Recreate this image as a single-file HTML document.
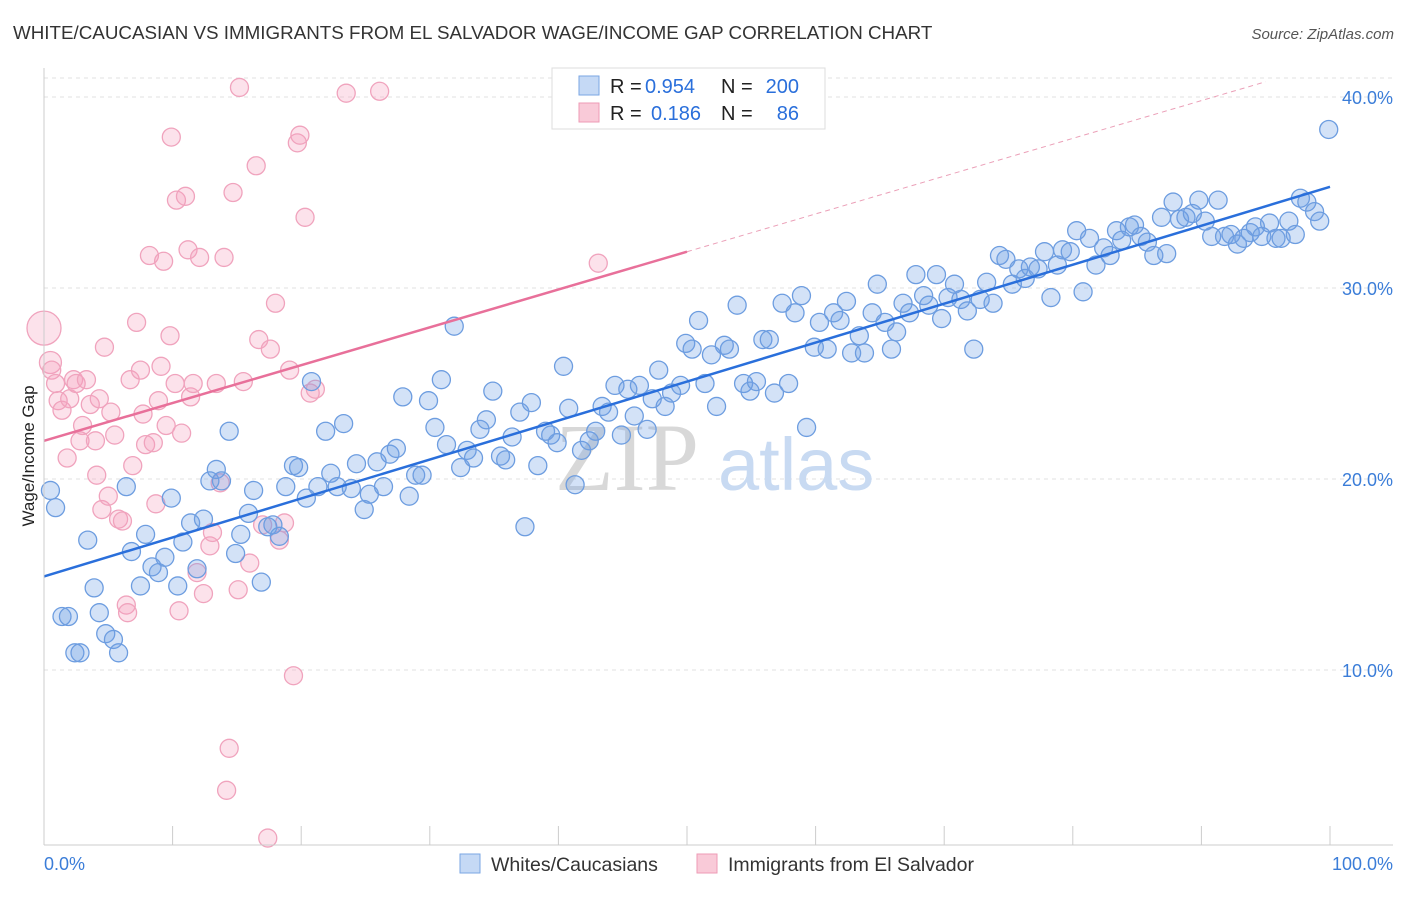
<!DOCTYPE html>
<html><head><meta charset="utf-8"><style>
body{margin:0;background:#fff;font-family:"Liberation Sans",sans-serif}
svg text{font-family:"Liberation Sans",sans-serif}
</style></head><body>
<svg id="c" width="1406" height="892" viewBox="0 0 1406 892">
<text x="13" y="39" font-size="18.8" fill="#333">WHITE/CAUCASIAN VS IMMIGRANTS FROM EL SALVADOR WAGE/INCOME GAP CORRELATION CHART</text>
<text x="1394" y="39" font-size="15" fill="#555" text-anchor="end" font-style="italic">Source: ZipAtlas.com</text>
<g id="grid"></g>
<text x="555" y="490" font-size="96" fill="#d8d8d8" style="font-family:'Liberation Serif',serif">ZIP</text>
<text x="718" y="490" font-size="74" fill="#c8daf2">atlas</text>
<g id="pts"></g>
<g id="lines"></g>
<g id="axes"></g>
<text transform="translate(34,456) rotate(-90)" font-size="17" fill="#222" text-anchor="middle">Wage/Income Gap</text>
<g>
<rect x="552" y="68" width="273" height="61" fill="#fff" stroke="#ddd"/>
<rect x="579" y="76" width="20" height="19" fill="#c5d9f5" stroke="#7aa6e3"/>
<rect x="579" y="103" width="20" height="19" fill="#f9cad8" stroke="#ee9bb6"/>
<g font-size="20">
<text x="610" y="93" fill="#222">R =</text><text x="645" y="93" fill="#2a6fdb">0.954</text><text x="721" y="93" fill="#222">N =</text><text x="799" y="93" fill="#2a6fdb" text-anchor="end">200</text>
<text x="610" y="120" fill="#222">R =</text><text x="651" y="120" fill="#2a6fdb">0.186</text><text x="721" y="120" fill="#222">N =</text><text x="799" y="120" fill="#2a6fdb" text-anchor="end">86</text>
</g>
</g>
<g>
<rect x="460" y="854" width="20" height="19" fill="#c5d9f5" stroke="#7aa6e3"/>
<text x="491" y="871" font-size="19.5" fill="#333">Whites/Caucasians</text>
<rect x="697" y="854" width="20" height="19" fill="#f9cad8" stroke="#ee9bb6"/>
<text x="728" y="871" font-size="19.5" fill="#333">Immigrants from El Salvador</text>
</g>
</svg>
<script>
const yTicks=[10,20,30,40];
const yTickLabels=["10.0%","20.0%","30.0%","40.0%"];
const xTicks=[0,10,20,30,40,50,60,70,80,90,100];
const blueX=[0.5,0.9,1.4,1.9,2.4,2.8,3.4,3.9,4.3,4.8,5.4,5.8,6.4,6.8,7.5,7.9,8.4,8.9,9.4,9.9,10.4,10.8,11.4,11.9,12.4,12.9,13.4,13.8,14.4,14.9,15.3,15.9,16.3,16.9,17.4,17.8,18.3,18.8,19.4,19.8,20.4,20.8,21.3,21.9,22.3,22.8,23.3,23.9,24.3,24.9,25.3,25.9,26.4,26.9,27.4,27.9,28.4,28.9,29.4,29.9,30.4,30.9,31.3,31.9,32.4,32.9,33.4,33.9,34.4,34.9,35.5,35.9,36.4,37.0,37.4,37.9,38.4,39.0,39.4,39.9,40.4,40.8,41.3,41.8,42.4,42.9,43.4,43.9,44.4,44.9,45.4,45.9,46.3,46.9,47.3,47.8,48.3,48.8,49.5,49.9,50.4,50.9,51.4,51.9,52.3,52.9,53.3,53.9,54.4,54.9,55.4,55.9,56.4,56.8,57.4,57.9,58.4,58.9,59.3,59.9,60.3,60.9,61.4,61.9,62.4,62.8,63.4,63.8,64.4,64.8,65.4,65.9,66.3,66.8,67.3,67.8,68.4,68.8,69.4,69.8,70.3,70.8,71.3,71.8,72.3,72.8,73.3,73.8,74.3,74.8,75.3,75.8,76.3,76.7,77.3,77.8,78.3,78.8,79.2,79.8,80.3,80.8,81.3,81.8,82.4,82.9,83.4,83.8,84.4,84.8,85.3,85.8,86.3,86.9,87.3,87.8,88.3,88.8,89.3,89.8,90.3,90.8,91.3,91.8,92.3,92.8,93.3,93.8,94.2,94.7,95.3,95.8,96.2,96.8,97.3,97.7,98.2,98.8,99.2,99.9];
const blueY=[19.4,18.5,12.8,12.8,10.9,10.9,16.8,14.3,13.0,11.9,11.6,10.9,19.6,16.2,14.4,17.1,15.4,15.1,15.9,19.0,14.4,16.7,17.7,15.3,17.9,19.9,20.5,19.9,22.5,16.1,17.1,18.2,19.4,14.6,17.5,17.6,17.0,19.6,20.7,20.6,19.0,25.1,19.6,22.5,20.3,19.6,22.9,19.5,20.8,18.4,19.2,20.9,19.6,21.3,21.6,24.3,19.1,20.2,20.2,24.1,22.7,25.2,21.8,28.0,20.6,21.5,21.1,22.6,23.1,24.6,21.2,21.0,22.2,23.5,17.5,24.0,20.7,22.5,22.3,21.9,25.9,23.7,19.7,21.5,22.0,22.5,23.8,23.5,24.9,22.3,24.7,23.3,24.9,22.6,24.2,25.7,23.8,24.5,24.9,27.1,26.8,28.3,25.0,26.5,23.8,27.0,26.8,29.1,25.0,24.6,25.1,27.3,27.3,24.5,29.2,25.0,28.7,29.6,22.7,26.9,28.2,26.8,28.7,28.3,29.3,26.6,27.5,26.6,28.7,30.2,28.2,26.8,27.7,29.2,28.7,30.7,29.6,29.1,30.7,28.4,29.5,30.2,29.4,28.8,26.8,29.4,30.3,29.2,31.7,31.5,30.2,31.0,30.5,31.1,31.0,31.9,29.5,31.2,32.0,31.9,33.0,29.8,32.6,31.2,32.1,31.7,33.0,32.5,33.2,33.3,32.7,32.4,31.7,33.7,31.8,34.5,33.6,33.7,33.9,34.6,33.5,32.7,34.6,32.7,32.8,32.3,32.6,32.9,33.2,32.7,33.4,32.6,32.6,33.5,32.8,34.7,34.5,34.0,33.5,38.3];
const pinkX=[0,0.5,0.6,0.9,1.1,1.4,1.8,2.0,2.3,2.5,2.8,3.0,3.3,3.6,4.0,4.1,4.3,4.5,4.7,5.0,5.2,5.5,5.8,6.1,6.4,6.5,6.7,6.9,7.2,7.5,7.7,7.9,8.2,8.5,8.7,8.9,9.1,9.3,9.5,9.8,9.9,10.2,10.3,10.5,10.7,11.0,11.2,11.4,11.6,11.9,12.1,12.4,12.9,13.1,13.4,13.7,14.0,14.2,14.4,14.7,15.1,15.2,15.5,16.0,16.5,16.7,17.0,17.4,17.6,18.0,18.3,18.7,19.1,19.4,19.7,19.9,20.3,20.7,21.1,23.5,26.1,43.1];
const pinkY=[27.9,26.1,25.7,25.0,24.1,23.6,21.1,24.2,25.2,25.0,22.0,22.8,25.2,23.9,22.0,20.2,24.2,18.4,26.9,19.1,23.5,22.3,17.9,17.8,13.4,13.0,25.2,20.7,28.2,25.7,23.4,21.8,31.7,21.9,18.7,24.1,25.9,31.4,22.8,27.5,37.9,25.0,34.6,13.1,22.4,34.8,32.0,24.3,25.0,15.1,31.6,14.0,16.5,17.2,25.0,19.8,31.6,3.7,5.9,35.0,14.2,40.5,25.1,15.6,36.4,27.3,17.6,1.2,26.8,29.2,16.8,17.7,25.7,9.7,37.6,38.0,33.7,24.5,24.7,40.2,40.3,31.3];
const blueLine=[[0,14.9],[100,35.3]];
const pinkLine=[[0,22.0],[50,31.9]];
const pinkDash=[[50,31.9],[95,40.8]];

const NS="http://www.w3.org/2000/svg";
const sx=v=>44+v*12.86;
const sy=v=>861-v*19.1;
function mk(t,a,p){const e=document.createElementNS(NS,t);for(const k in a)e.setAttribute(k,a[k]);p.appendChild(e);return e;}
const grid=document.getElementById('grid'),axes=document.getElementById('axes'),pts=document.getElementById('pts'),lines=document.getElementById('lines');
yTicks.forEach((v,i)=>{
 const l=mk('line',{x1:44,x2:1393,y1:sy(v),y2:sy(v),stroke:'#e2e2e2','stroke-dasharray':'4,4'},grid);
 
 
 const t=mk('text',{x:1393,y:sy(v)+7,'font-size':18,fill:'#3b7dd8','text-anchor':'end'},axes);
 t.textContent=yTickLabels[i];
 
 
});
const topLine=mk('line',{x1:44,x2:1393,y1:78,y2:78,stroke:'#e2e2e2','stroke-dasharray':'4,4'},grid);


const ya=mk('line',{x1:44,x2:44,y1:68,y2:845,stroke:'#ccc'},axes);


const xa=mk('line',{x1:44,x2:1393,y1:845,y2:845,stroke:'#ccc'},axes);


xTicks.forEach(v=>{
 const l=mk('line',{x1:sx(v),x2:sx(v),y1:826,y2:845,stroke:'#ccc'},axes);
 
 
});
const x0=mk('text',{x:44,y:870,'font-size':18,fill:'#3b7dd8'},axes);x0.textContent='0.0%';


const x1=mk('text',{x:1393,y:870,'font-size':18,fill:'#3b7dd8','text-anchor':'end'},axes);x1.textContent='100.0%';


pinkX.forEach((x,i)=>{
 const r=i==0?17:(i==1?11:9);
 const c=mk('circle',{cx:sx(x),cy:sy(pinkY[i]),r:r,fill:'rgba(244,160,190,0.3)',stroke:'#f0a3bd','stroke-width':1.3},pts);
 
 
});
blueX.forEach((x,i)=>{
 const c=mk('circle',{cx:sx(x),cy:sy(blueY[i]),r:9,fill:'rgba(110,160,230,0.3)',stroke:'#6d9de0','stroke-width':1.3},pts);
 
 
});
const bl=mk('line',{x1:sx(blueLine[0][0]),y1:sy(blueLine[0][1]),x2:sx(blueLine[1][0]),y2:sy(blueLine[1][1]),stroke:'#2a6fdb','stroke-width':2.5},lines);


const pl=mk('line',{x1:sx(pinkLine[0][0]),y1:sy(pinkLine[0][1]),x2:sx(pinkLine[1][0]),y2:sy(pinkLine[1][1]),stroke:'#e8709a','stroke-width':2.5},lines);


const pd=mk('line',{x1:sx(pinkDash[0][0]),y1:sy(pinkDash[0][1]),x2:sx(pinkDash[1][0]),y2:sy(pinkDash[1][1]),stroke:'#eba0b8','stroke-width':1,'stroke-dasharray':'5,4'},lines);


</script>
</body></html>
